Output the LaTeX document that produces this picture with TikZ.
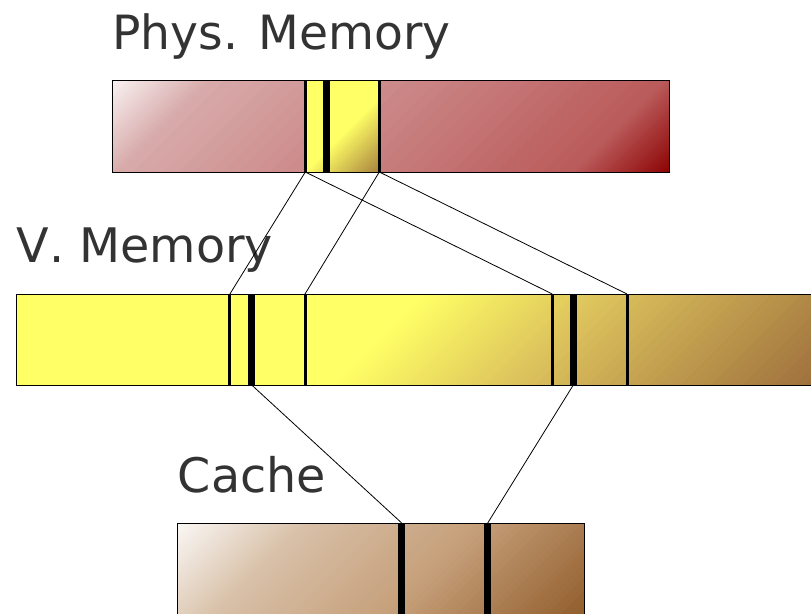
\documentclass[tikz,border=0pt]{standalone}
\usepackage{fontspec}
\setmainfont{DejaVu Sans}
\newfontfamily\nokern[Kerning=Off]{DejaVu Sans}
\definecolor{txt}{HTML}{333333}
\definecolor{physwhite}{HTML}{FCF8F8}
\definecolor{physmid}{HTML}{D8AAAA}
\definecolor{physmidb}{HTML}{BA5A5A}
\definecolor{physred}{HTML}{8B0000}
\definecolor{vyellow}{HTML}{FFFF66}
\definecolor{vgold}{HTML}{DCC25C}
\definecolor{vbrown}{HTML}{9C6C3C}
\definecolor{sbrown}{HTML}{A47C3C}
\definecolor{cwhite}{HTML}{FCFAF8}
\definecolor{cmid}{HTML}{D8C0A8}
\definecolor{cmidb}{HTML}{C6A07A}
\definecolor{cbrown}{HTML}{8E5A28}

% diagonal (45 degree) gradient strips: t0 t1 colA colB ytop ybot
\newcommand{\gstrips}[6]{%
  \foreach \gi in {0,...,29}{%
    \pgfmathsetmacro\gta{#1+(#2-#1)*\gi/30}%
    \pgfmathsetmacro\gtb{#1+(#2-#1)*(\gi+1)/30+0.8}%
    \pgfmathtruncatemacro\gp{(\gi+0.5)*100/30}%
    \fill[#4!\gp!#3] (\gta-#5,#5) -- (\gtb-#5,#5) -- (\gtb-#6,#6) -- (\gta-#6,#6) -- cycle;
  }%
}

\tikzset{
  labeltext/.style={anchor=base west, inner sep=0pt, text=txt, font=\nokern\fontsize{47.6}{57}\selectfont},
  barborder/.style={draw=black, line width=0.9pt},
  thindiv/.style={draw=black, line width=3pt},
  thickdiv/.style={draw=black, line width=6.5pt},
  connector/.style={draw=black, line width=0.8pt},
}

\begin{document}
\begin{tikzpicture}[x=1pt,y=-1pt]
\useasboundingbox (0,0) rectangle (811,613);

% ---------- labels
\node[labeltext, font=\nokern\fontsize{47.2}{57}\selectfont] (tphys) at (112.3,49) {Phys. Memory};
\node[labeltext] (tvirt) at (16.3,262.3) {V. Memory};
\node[labeltext] (tcache) at (177.7,492.3) {Cache};

% ---------- physical memory bar
\begin{scope}
  \clip (112,80) rectangle (669,172);
  \fill[physwhite] (112,80) rectangle (669,172);
  \gstrips{185}{290}{physwhite}{physmid}{80}{172}
  \gstrips{290}{745}{physmid}{physmidb}{80}{172}
  \gstrips{745}{845}{physmidb}{physred}{80}{172}
\end{scope}
\begin{scope}
  \clip (305,80) rectangle (380,172);
  \fill[vyellow] (305,80) rectangle (380,172);
  \gstrips{477}{555}{vyellow}{sbrown}{80}{172}
\end{scope}
\draw[barborder] (112,80) rectangle (669,172);

% ---------- virtual memory bar
\begin{scope}
  \clip (16,294) rectangle (820,385);
  \fill[vyellow] (16,294) rectangle (820,385);
  \gstrips{718}{900}{vyellow}{vgold}{294}{385}
  \gstrips{900}{1210}{vgold}{vbrown}{294}{385}
\end{scope}
\draw[barborder] (16,294) rectangle (820,385);

% ---------- cache bar
\begin{scope}
  \clip (177,523) rectangle (584,620);
  \fill[cwhite] (177,523) rectangle (584,620);
  \gstrips{695}{830}{cwhite}{cmid}{523}{620}
  \gstrips{830}{1000}{cmid}{cmidb}{523}{620}
  \gstrips{1000}{1210}{cmidb}{cbrown}{523}{620}
\end{scope}
\draw[barborder] (177,523) rectangle (584,620);

% ---------- divider end points
\coordinate (pAt) at (305.3,80);  \coordinate (pAb) at (305.3,172);
\coordinate (pBt) at (326.5,80);  \coordinate (pBb) at (326.5,172);
\coordinate (pCt) at (379.3,80);  \coordinate (pCb) at (379.3,172);

\coordinate (vAt) at (229.9,294); \coordinate (vAb) at (229.9,385);
\coordinate (vBt) at (251.7,294); \coordinate (vBb) at (251.7,385);
\coordinate (vCt) at (305.0,294); \coordinate (vCb) at (305.0,385);
\coordinate (vDt) at (552.3,294); \coordinate (vDb) at (552.3,385);
\coordinate (vEt) at (573.3,294); \coordinate (vEb) at (573.3,385);
\coordinate (vFt) at (627.0,294); \coordinate (vFb) at (627.0,385);

\coordinate (cAt) at (401.7,523); \coordinate (cAb) at (401.7,620);
\coordinate (cBt) at (487.7,523); \coordinate (cBb) at (487.7,620);

% ---------- dividers
\draw[thindiv]  (pAt) -- (pAb);
\draw[thickdiv] (pBt) -- (pBb);
\draw[thindiv]  (pCt) -- (pCb);

\draw[thindiv]  (vAt) -- (vAb);
\draw[thickdiv] (vBt) -- (vBb);
\draw[thindiv]  (vCt) -- (vCb);
\draw[thindiv]  (vDt) -- (vDb);
\draw[thickdiv] (vEt) -- (vEb);
\draw[thindiv]  (vFt) -- (vFb);

\draw[thickdiv] (cAt) -- (cAb);
\draw[thickdiv] (cBt) -- (cBb);

% ---------- connectors
\draw[connector] (pAb) -- (vAt);
\draw[connector] (pCb) -- (vCt);
\draw[connector] (pAb) -- (vDt);
\draw[connector] (pCb) -- (vFt);
\draw[connector] (vBb) -- (cAt);
\draw[connector] (vEb) -- (cBt);
\end{tikzpicture}
\end{document}
